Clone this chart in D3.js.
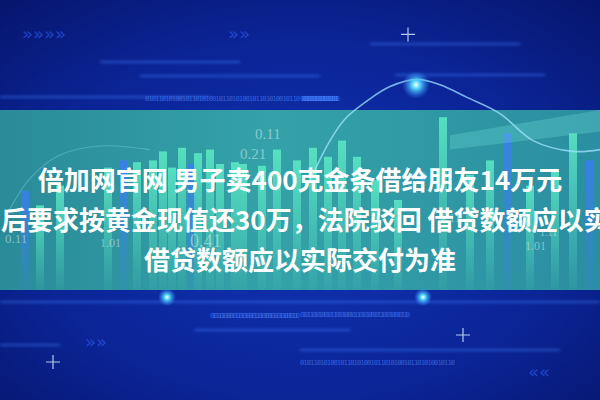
<!DOCTYPE html>
<html>
	<head>
		<meta charset="UTF-8" />
		<title>倍加网官网</title>
		<script src="https://cdn.jsdelivr.net/npm/d3@7"></script>
		<style>
			body {
				margin: 0;
				background: #0a1f8a;
			}
			svg {
				display: block;
				width: 600px;
				height: 400px;
			}
		</style>
	</head>
	<body>
		<svg></svg>

		<script>
			// background chart data
			const barPos = [5, 8, 12, 21.6, 24.6, 27.4, 30.6, 32.6, 34.4, 36.4, 38.4, 39.6, 42, 44, 47, 48.6, 52.4, 55.4, 59.4, 62.6, 65.6, 68.4, 71.4, 75, 79.6, 88.6, 94, 98, 101.4, 106, 111, 114.6, 118];
			const barValues = [55, 47, 58, 68, 72, 71, 72, 77, 68, 79, 70, 76, 78, 70, 71, 70, 69, 78, 72, 79, 74, 83, 74, 61, 50, 96, 64, 72, 87, 58, 67, 87, 72];
			const barBlue = [0, 4, 32, 28, 10];

			const curvePos = [62, 66, 69, 73.4, 78, 83.4, 88, 93.4, 100, 106.6, 114.6, 120];
			const curveValues = [61, 83, 95, 105, 113, 117, 114, 107, 98, 83, 77, 78];

			const numPos = [51, 48, 1, 20, 38, 88, 102, 105, 108];
			const numValues = [84, 73, 26, 24, 24, 38, 35, 22, 30];
			const numLabels = ["0.11", "0.21", "0.11", "1.01", "0.41", "1.11", "1.01", "1.01", "1.11"];
			const numSizes = [15, 15, 13, 12, 18, 12, 11, 12, 10];

			const titleLines = [
				"倍加网官网 男子卖400克金条借给朋友14万元",
				"后要求按黄金现值还30万，法院驳回 借贷数额应以实",
				"借贷数额应以实际交付为准",
			];

			const W = 600,
				H = 400;
			const bandTop = 110,
				bandBottom = 290;

			const svg = d3.select("svg").attr("viewBox", `0 0 ${W} ${H}`);

			const x = d3.scaleLinear().domain([0, 120]).range([0, W]);
			const y = d3.scaleLinear().domain([0, 100]).range([bandBottom, bandBottom - 180]);

			const defs = svg.append("defs");

			const bg = defs
				.append("radialGradient")
				.attr("id", "bg")
				.attr("cx", "50%")
				.attr("cy", "55%")
				.attr("r", "75%");
			bg.append("stop").attr("offset", "0%").attr("stop-color", "#1034b4");
			bg.append("stop").attr("offset", "60%").attr("stop-color", "#0b2496");
			bg.append("stop").attr("offset", "100%").attr("stop-color", "#06156c");

			const band = defs.append("linearGradient").attr("id", "band");
			band.append("stop").attr("offset", "0%").attr("stop-color", "#2a8b99");
			band.append("stop").attr("offset", "45%").attr("stop-color", "#34a2a8");
			band.append("stop").attr("offset", "100%").attr("stop-color", "#2b8ea2");

			const barGrad = defs
				.append("linearGradient")
				.attr("id", "barGrad")
				.attr("x1", 0)
				.attr("x2", 0)
				.attr("y1", 0)
				.attr("y2", 1);
			barGrad.append("stop").attr("offset", "0%").attr("stop-color", "#5ff0c8").attr("stop-opacity", 0.8);
			barGrad.append("stop").attr("offset", "100%").attr("stop-color", "#5ff0c8").attr("stop-opacity", 0.05);

			const blueGrad = defs
				.append("linearGradient")
				.attr("id", "blueGrad")
				.attr("x1", 0)
				.attr("x2", 0)
				.attr("y1", 0)
				.attr("y2", 1);
			blueGrad.append("stop").attr("offset", "0%").attr("stop-color", "#3a7ef0").attr("stop-opacity", 0.85);
			blueGrad.append("stop").attr("offset", "100%").attr("stop-color", "#3a7ef0").attr("stop-opacity", 0.1);

			const glow = defs
				.append("radialGradient")
				.attr("id", "glow");
			glow.append("stop").attr("offset", "0%").attr("stop-color", "#ffffff");
			glow.append("stop").attr("offset", "25%").attr("stop-color", "#5fe0ff");
			glow.append("stop").attr("offset", "100%").attr("stop-color", "#2a8cff").attr("stop-opacity", 0);

			defs
				.append("filter")
				.attr("id", "blur")
				.append("feGaussianBlur")
				.attr("stdDeviation", 1.5);

			// background
			svg.append("rect").attr("width", W).attr("height", H).attr("fill", "url(#bg)");

			// faint glowing streaks in the blue parts
			const streaks = [
				[100, 62, 240],
				[140, 76, 320],
				[395, 75, 545],
				[370, 44, 520],
				[0, 97, 210],
				[0, 302, 600],
				[195, 330, 350],
				[300, 350, 560],
				[0, 345, 60],
			];
			svg
				.append("g")
				.attr("filter", "url(#blur)")
				.selectAll("line")
				.data(streaks)
				.join("line")
				.attr("x1", (d) => d[0])
				.attr("x2", (d) => d[2])
				.attr("y1", (d) => d[1])
				.attr("y2", (d) => d[1])
				.attr("stroke", "#3d7dff")
				.attr("stroke-opacity", 0.5)
				.attr("stroke-width", 2);

			// binary digit rows
			const binRows = [
				[145, 101, 300],
				[300, 101, 340],
				[210, 318, 300],
				[300, 317, 410],
				[300, 365, 455],
			];
			svg
				.append("g")
				.selectAll("text")
				.data(binRows)
				.join("text")
				.attr("x", (d) => d[0])
				.attr("y", (d) => d[1])
				.attr("textLength", (d) => d[2] - d[0])
				.attr("font-family", "DejaVu Sans Mono")
				.attr("font-size", 7)
				.attr("fill", "#4f86ff")
				.attr("fill-opacity", 0.6)
				.text("0101101010010110101001011010100101101010010110");

			// chevrons
			const chev = [
				[22, 32, "»»»»"],
				[228, 32, "»»"],
				[85, 148, "»»"],
				[528, 178, "««"],
			];
			svg
				.append("g")
				.selectAll("text")
				.data(chev)
				.join("text")
				.attr("x", (d) => d[0])
				.attr("y", (d) => d[1] + (d[1] > 100 ? 200 : 8))
				.attr("font-family", "DejaVu Sans")
				.attr("font-size", 18)
				.attr("fill", "#3466ff")
				.attr("fill-opacity", 0.55)
				.text((d) => d[2]);

			// teal band
			svg
				.append("rect")
				.attr("y", bandTop)
				.attr("width", W)
				.attr("height", bandBottom - bandTop)
				.attr("fill", "url(#band)");

			// bars
			svg
				.append("g")
				.selectAll("rect")
				.data(barPos)
				.join("rect")
				.attr("x", (d) => x(d) - 4)
				.attr("width", 8)
				.attr("y", (d, i) => y(barValues[i]))
				.attr("height", (d, i) => y(0) - y(barValues[i]))
				.attr("fill", (d, i) => (barBlue.includes(i) ? "url(#blueGrad)" : "url(#barGrad)"));

			// small flag panel on the right
			svg
				.append("path")
				.attr("d", d3.line()([[x(90), y(86)], [x(120), y(100)], [x(120), y(88)], [x(90), y(78)]]))
				.attr("fill", "#7af0e0")
				.attr("fill-opacity", 0.25);

			// number labels
			svg
				.append("g")
				.selectAll("text")
				.data(numLabels)
				.join("text")
				.attr("x", (d, i) => x(numPos[i]))
				.attr("y", (d, i) => y(numValues[i]))
				.attr("font-family", "Liberation Serif")
				.attr("font-size", (d, i) => numSizes[i])
				.attr("fill", "#cfeff0")
				.attr("fill-opacity", 0.55)
				.text((d) => d);

			// curve
			const curve = d3
				.line()
				.x((d, i) => x(curvePos[i]))
				.y((d) => y(d))
				.curve(d3.curveCatmullRom);
			svg
				.append("path")
				.datum(curveValues)
				.attr("d", curve)
				.attr("fill", "none")
				.attr("stroke", "#9fe4ff")
				.attr("stroke-opacity", 0.75)
				.attr("stroke-width", 1.6);

			// left faint arc
			svg
				.append("path")
				.datum([40, 62, 75, 80, 78])
				.attr(
					"d",
					d3
						.line()
						.x((d, i) => x([1, 6, 12, 20, 30][i]))
						.y((d) => y(d))
						.curve(d3.curveCatmullRom)
				)
				.attr("fill", "none")
				.attr("stroke", "#9fe4ff")
				.attr("stroke-opacity", 0.3)
				.attr("stroke-width", 1.2);

			// glow dots and stars
			const dots = [
				[83.2, 114, 14],
				[33.4, -4, 9],
				[84.6, -4, 9],
				[84.6, 63, 6],
				[94, 60, 4],
			];
			svg
				.append("g")
				.selectAll("circle")
				.data(dots)
				.join("circle")
				.attr("cx", (d) => x(d[0]))
				.attr("cy", (d) => y(d[1]))
				.attr("r", (d) => d[2])
				.attr("fill", "url(#glow)");

			const stars = [
				[81.6, 142],
				[10.6, -40],
				[92.6, -25],
			];
			const starG = svg
				.append("g")
				.selectAll("g")
				.data(stars)
				.join("g")
				.attr("transform", (d) => `translate(${x(d[0])},${y(d[1])})`);
			starG
				.append("path")
				.attr("d", "M-7,0L7,0M0,-7L0,7")
				.attr("stroke", "#dff4ff")
				.attr("stroke-width", 1.2)
				.attr("stroke-opacity", 0.8);

			// title
			svg
				.append("g")
				.selectAll("text")
				.data(titleLines)
				.join("text")
				.attr("x", (d, i) => (i === 1 ? 1 : W / 2))
				.attr("y", (d, i) => 190 + i * 40)
				.attr("text-anchor", (d, i) => (i === 1 ? "start" : "middle"))
				.attr("font-family", "Noto Sans CJK SC")
				.attr("font-weight", 700)
				.attr("font-size", 26)
				.attr("fill", "#ffffff")
				.text((d) => d);
		</script>
	</body>
</html>
